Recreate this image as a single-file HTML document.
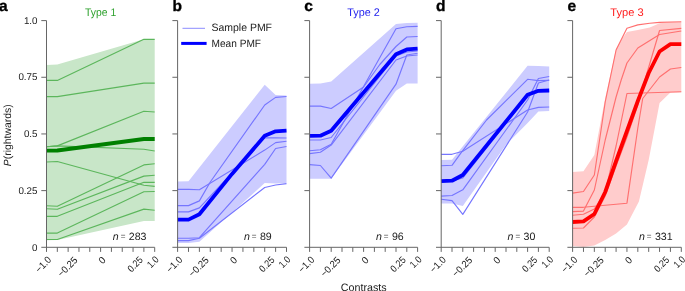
<!DOCTYPE html>
<html><head><meta charset="utf-8"><style>html,body{margin:0;padding:0;background:#fff;}body{width:685px;height:291px;overflow:hidden;}svg{display:block;}text{font-family:"Liberation Sans", sans-serif;}</style></head><body>
<svg width="685" height="291" viewBox="0 0 685 291" text-rendering="geometricPrecision" style="will-change:transform">
<polygon points="46.50,65.00 57.32,64.40 143.88,39.30 154.70,39.30 154.70,221.00 143.88,221.10 57.32,240.00 46.50,240.30" fill="#c8e6c8" stroke="none"/>
<polyline points="46.50,80.40 57.32,80.40 143.88,39.30 154.70,39.30" fill="none" stroke="#5cb65c" stroke-width="1.15" stroke-linejoin="round"/>
<polyline points="46.50,96.60 57.32,96.60 143.88,83.10 154.70,83.10" fill="none" stroke="#5cb65c" stroke-width="1.15" stroke-linejoin="round"/>
<polyline points="46.50,146.70 57.32,145.90 143.88,111.20 154.70,112.00" fill="none" stroke="#5cb65c" stroke-width="1.15" stroke-linejoin="round"/>
<polyline points="46.50,146.70 57.32,145.90 143.88,149.20 154.70,151.00" fill="none" stroke="#5cb65c" stroke-width="1.15" stroke-linejoin="round"/>
<polyline points="46.50,162.00 57.32,161.50 143.88,185.20 154.70,186.40" fill="none" stroke="#5cb65c" stroke-width="1.15" stroke-linejoin="round"/>
<polyline points="46.50,205.80 57.32,206.30 143.88,164.90 154.70,163.80" fill="none" stroke="#5cb65c" stroke-width="1.15" stroke-linejoin="round"/>
<polyline points="46.50,208.80 57.32,209.30 143.88,176.10 154.70,175.20" fill="none" stroke="#5cb65c" stroke-width="1.15" stroke-linejoin="round"/>
<polyline points="46.50,216.30 57.32,216.30 143.88,182.30 154.70,182.30" fill="none" stroke="#5cb65c" stroke-width="1.15" stroke-linejoin="round"/>
<polyline points="46.50,233.10 57.32,233.10 143.88,191.70 154.70,191.50" fill="none" stroke="#5cb65c" stroke-width="1.15" stroke-linejoin="round"/>
<polyline points="46.50,239.50 57.32,239.50 143.88,209.10 154.70,210.30" fill="none" stroke="#5cb65c" stroke-width="1.15" stroke-linejoin="round"/>
<polyline points="46.50,150.60 57.32,150.50 143.88,139.00 154.70,139.00" fill="none" stroke="#008000" stroke-width="3.8" stroke-linejoin="round"/>
<g stroke="#666" stroke-width="1" fill="none"><line x1="46.50" y1="20.60" x2="46.50" y2="251.90"/><line x1="41.30" y1="247.30" x2="154.70" y2="247.30"/><line x1="41.30" y1="190.62" x2="46.50" y2="190.62"/><line x1="41.30" y1="133.95" x2="46.50" y2="133.95"/><line x1="41.30" y1="77.28" x2="46.50" y2="77.28"/><line x1="41.30" y1="20.60" x2="46.50" y2="20.60"/><line x1="57.32" y1="247.30" x2="57.32" y2="251.90"/><line x1="68.14" y1="247.30" x2="68.14" y2="251.90"/><line x1="78.96" y1="247.30" x2="78.96" y2="251.90"/><line x1="89.78" y1="247.30" x2="89.78" y2="251.90"/><line x1="100.60" y1="247.30" x2="100.60" y2="251.90"/><line x1="111.42" y1="247.30" x2="111.42" y2="251.90"/><line x1="122.24" y1="247.30" x2="122.24" y2="251.90"/><line x1="133.06" y1="247.30" x2="133.06" y2="251.90"/><line x1="143.88" y1="247.30" x2="143.88" y2="251.90"/><line x1="154.70" y1="247.30" x2="154.70" y2="251.90"/></g>
<text x="37.50" y="250.50" font-size="9.8" fill="#1a1a1a" text-anchor="end">0</text><text x="37.50" y="193.82" font-size="9.8" fill="#1a1a1a" text-anchor="end">0.25</text><text x="37.50" y="137.15" font-size="9.8" fill="#1a1a1a" text-anchor="end">0.5</text><text x="37.50" y="80.48" font-size="9.8" fill="#1a1a1a" text-anchor="end">0.75</text><text x="37.50" y="23.80" font-size="9.8" fill="#1a1a1a" text-anchor="end">1.0</text>
<text transform="translate(45.50,266.90) rotate(-45)" font-size="9.8" fill="#1a1a1a" text-anchor="middle" textLength="17.99" lengthAdjust="spacingAndGlyphs">−1.0</text><text transform="translate(69.79,269.20) rotate(-45)" font-size="9.8" fill="#1a1a1a" text-anchor="middle" textLength="23.80" lengthAdjust="spacingAndGlyphs">−0.25</text><text transform="translate(104.50,262.50) rotate(-45)" font-size="9.8" fill="#1a1a1a" text-anchor="middle" textLength="5.45" lengthAdjust="spacingAndGlyphs">0</text><text transform="translate(137.46,266.70) rotate(-45)" font-size="9.8" fill="#1a1a1a" text-anchor="middle" textLength="17.16" lengthAdjust="spacingAndGlyphs">0.25</text><text transform="translate(155.15,264.30) rotate(-45)" font-size="9.8" fill="#1a1a1a" text-anchor="middle" textLength="11.85" lengthAdjust="spacingAndGlyphs">1.0</text>
<text x="-0.90" y="11.2" font-size="15.5" font-weight="bold" fill="#000" stroke="#000" stroke-width="0.35">a</text>
<text x="100.60" y="15.9" font-size="11" fill="#2ca02c" text-anchor="middle" textLength="31.2" lengthAdjust="spacingAndGlyphs">Type 1</text>
<text y="240" font-size="10.6" fill="#1a1a1a"><tspan x="112.80" font-style="italic">n</tspan><tspan x="118.50" dy="-1" font-size="8" font-weight="bold" fill="#8a8a8a"> = </tspan><tspan x="128.80" dy="1">283</tspan></text>
<polygon points="177.60,181.50 188.49,181.20 264.72,84.70 275.61,95.00 286.50,95.50 286.50,183.10 275.61,183.40 264.72,183.10 199.38,241.70 188.49,242.90 177.60,242.90" fill="#ccccff" stroke="none"/>
<polyline points="177.60,189.40 188.49,189.40 199.38,189.70 264.72,150.10 275.61,142.60 286.50,141.20" fill="none" stroke="#7676ff" stroke-width="1.15" stroke-linejoin="round"/>
<polyline points="177.60,205.60 188.49,205.60 199.38,200.90 210.27,182.00 264.72,105.00 275.61,97.40 286.50,96.50" fill="none" stroke="#7676ff" stroke-width="1.15" stroke-linejoin="round"/>
<polyline points="177.60,211.90 188.49,211.90 199.38,207.90 264.72,137.90 275.61,137.90 286.50,138.00" fill="none" stroke="#7676ff" stroke-width="1.15" stroke-linejoin="round"/>
<polyline points="177.60,238.20 188.49,238.20 199.38,237.70 264.72,164.30 275.61,148.50 286.50,146.50" fill="none" stroke="#7676ff" stroke-width="1.15" stroke-linejoin="round"/>
<polyline points="177.60,240.60 188.49,240.60 199.38,238.20 264.72,187.50 275.61,185.00 286.50,183.60" fill="none" stroke="#7676ff" stroke-width="1.15" stroke-linejoin="round"/>
<polyline points="177.60,219.60 188.49,219.60 199.38,214.20 232.05,173.90 264.72,135.80 275.61,131.30 286.50,130.70" fill="none" stroke="#0000ff" stroke-width="3.8" stroke-linejoin="round"/>
<g stroke="#666" stroke-width="1" fill="none"><line x1="177.60" y1="20.60" x2="177.60" y2="251.90"/><line x1="172.40" y1="247.30" x2="286.50" y2="247.30"/><line x1="172.40" y1="190.62" x2="177.60" y2="190.62"/><line x1="172.40" y1="133.95" x2="177.60" y2="133.95"/><line x1="172.40" y1="77.28" x2="177.60" y2="77.28"/><line x1="172.40" y1="20.60" x2="177.60" y2="20.60"/><line x1="188.49" y1="247.30" x2="188.49" y2="251.90"/><line x1="199.38" y1="247.30" x2="199.38" y2="251.90"/><line x1="210.27" y1="247.30" x2="210.27" y2="251.90"/><line x1="221.16" y1="247.30" x2="221.16" y2="251.90"/><line x1="232.05" y1="247.30" x2="232.05" y2="251.90"/><line x1="242.94" y1="247.30" x2="242.94" y2="251.90"/><line x1="253.83" y1="247.30" x2="253.83" y2="251.90"/><line x1="264.72" y1="247.30" x2="264.72" y2="251.90"/><line x1="275.61" y1="247.30" x2="275.61" y2="251.90"/><line x1="286.50" y1="247.30" x2="286.50" y2="251.90"/></g>

<text transform="translate(176.60,266.90) rotate(-45)" font-size="9.8" fill="#1a1a1a" text-anchor="middle" textLength="17.99" lengthAdjust="spacingAndGlyphs">−1.0</text><text transform="translate(201.03,269.20) rotate(-45)" font-size="9.8" fill="#1a1a1a" text-anchor="middle" textLength="23.80" lengthAdjust="spacingAndGlyphs">−0.25</text><text transform="translate(235.95,262.50) rotate(-45)" font-size="9.8" fill="#1a1a1a" text-anchor="middle" textLength="5.45" lengthAdjust="spacingAndGlyphs">0</text><text transform="translate(269.12,266.70) rotate(-45)" font-size="9.8" fill="#1a1a1a" text-anchor="middle" textLength="17.16" lengthAdjust="spacingAndGlyphs">0.25</text><text transform="translate(286.95,264.30) rotate(-45)" font-size="9.8" fill="#1a1a1a" text-anchor="middle" textLength="11.85" lengthAdjust="spacingAndGlyphs">1.0</text>
<text x="172.50" y="11.2" font-size="15.5" font-weight="bold" fill="#000" stroke="#000" stroke-width="0.35">b</text>
<text y="240" font-size="10.6" fill="#1a1a1a"><tspan x="243.90" font-style="italic">n</tspan><tspan x="249.60" dy="-1" font-size="8" font-weight="bold" fill="#8a8a8a"> = </tspan><tspan x="259.90" dy="1">89</tspan></text>
<polygon points="309.60,83.70 320.40,83.60 331.20,81.50 396.00,24.00 406.80,23.00 417.60,22.80 417.60,83.40 406.80,83.40 396.00,90.80 331.20,178.80 309.60,178.80" fill="#ccccff" stroke="none"/>
<polyline points="309.60,164.60 320.40,165.50 331.20,178.20 396.00,84.20 406.80,55.00 417.60,53.30" fill="none" stroke="#7676ff" stroke-width="1.15" stroke-linejoin="round"/>
<polyline points="309.60,153.60 320.40,152.30 331.20,145.10 396.00,60.00 406.80,56.00 417.60,55.00" fill="none" stroke="#7676ff" stroke-width="1.15" stroke-linejoin="round"/>
<polyline points="309.60,150.80 320.40,149.80 331.20,144.20 396.00,28.80 406.80,26.70 417.60,26.40" fill="none" stroke="#7676ff" stroke-width="1.15" stroke-linejoin="round"/>
<polyline points="309.60,106.10 320.40,106.10 331.20,108.50 363.60,87.00 379.80,64.50 396.00,46.50 406.80,37.00 417.60,36.50" fill="none" stroke="#7676ff" stroke-width="1.15" stroke-linejoin="round"/>
<polyline points="309.60,140.00 320.40,140.00 331.20,137.50 396.00,56.00 406.80,52.00 417.60,51.00" fill="none" stroke="#7676ff" stroke-width="1.15" stroke-linejoin="round"/>
<polyline points="309.60,135.90 320.40,135.70 331.20,130.80 396.00,54.20 406.80,49.40 417.60,48.70" fill="none" stroke="#0000ff" stroke-width="3.8" stroke-linejoin="round"/>
<g stroke="#666" stroke-width="1" fill="none"><line x1="309.60" y1="20.60" x2="309.60" y2="251.90"/><line x1="304.40" y1="247.30" x2="417.60" y2="247.30"/><line x1="304.40" y1="190.62" x2="309.60" y2="190.62"/><line x1="304.40" y1="133.95" x2="309.60" y2="133.95"/><line x1="304.40" y1="77.28" x2="309.60" y2="77.28"/><line x1="304.40" y1="20.60" x2="309.60" y2="20.60"/><line x1="320.40" y1="247.30" x2="320.40" y2="251.90"/><line x1="331.20" y1="247.30" x2="331.20" y2="251.90"/><line x1="342.00" y1="247.30" x2="342.00" y2="251.90"/><line x1="352.80" y1="247.30" x2="352.80" y2="251.90"/><line x1="363.60" y1="247.30" x2="363.60" y2="251.90"/><line x1="374.40" y1="247.30" x2="374.40" y2="251.90"/><line x1="385.20" y1="247.30" x2="385.20" y2="251.90"/><line x1="396.00" y1="247.30" x2="396.00" y2="251.90"/><line x1="406.80" y1="247.30" x2="406.80" y2="251.90"/><line x1="417.60" y1="247.30" x2="417.60" y2="251.90"/></g>

<text transform="translate(308.60,266.90) rotate(-45)" font-size="9.8" fill="#1a1a1a" text-anchor="middle" textLength="17.99" lengthAdjust="spacingAndGlyphs">−1.0</text><text transform="translate(332.85,269.20) rotate(-45)" font-size="9.8" fill="#1a1a1a" text-anchor="middle" textLength="23.80" lengthAdjust="spacingAndGlyphs">−0.25</text><text transform="translate(367.50,262.50) rotate(-45)" font-size="9.8" fill="#1a1a1a" text-anchor="middle" textLength="5.45" lengthAdjust="spacingAndGlyphs">0</text><text transform="translate(400.40,266.70) rotate(-45)" font-size="9.8" fill="#1a1a1a" text-anchor="middle" textLength="17.16" lengthAdjust="spacingAndGlyphs">0.25</text><text transform="translate(418.05,264.30) rotate(-45)" font-size="9.8" fill="#1a1a1a" text-anchor="middle" textLength="11.85" lengthAdjust="spacingAndGlyphs">1.0</text>
<text x="304.20" y="11.2" font-size="15.5" font-weight="bold" fill="#000" stroke="#000" stroke-width="0.35">c</text>
<text x="363.60" y="15.9" font-size="11" fill="#2323ee" text-anchor="middle" textLength="32.5" lengthAdjust="spacingAndGlyphs">Type 2</text>
<text y="240" font-size="10.6" fill="#1a1a1a"><tspan x="375.90" font-style="italic">n</tspan><tspan x="381.60" dy="-1" font-size="8" font-weight="bold" fill="#8a8a8a"> = </tspan><tspan x="391.90" dy="1">96</tspan></text>
<polygon points="441.20,160.00 452.00,159.80 527.60,65.80 538.40,66.00 549.20,66.60 549.20,111.00 538.40,111.50 527.60,123.00 506.00,144.80 462.80,206.10 452.00,203.50 441.20,203.50" fill="#ccccff" stroke="none"/>
<polyline points="441.20,154.30 452.00,154.30 462.80,151.20 527.60,110.00 538.40,107.40 549.20,107.00" fill="none" stroke="#7676ff" stroke-width="1.15" stroke-linejoin="round"/>
<polyline points="441.20,165.70 452.00,165.30 460.64,153.30 486.56,120.00 527.60,79.30 538.40,80.60 549.20,80.20" fill="none" stroke="#7676ff" stroke-width="1.15" stroke-linejoin="round"/>
<polyline points="441.20,196.10 452.00,195.50 462.80,189.80 527.60,100.00 538.40,78.50 549.20,76.50" fill="none" stroke="#7676ff" stroke-width="1.15" stroke-linejoin="round"/>
<polyline points="441.20,199.20 452.00,200.60 462.80,214.40 527.60,112.00 538.40,83.00 549.20,80.00" fill="none" stroke="#7676ff" stroke-width="1.15" stroke-linejoin="round"/>
<polyline points="441.20,181.00 452.00,181.00 462.80,178.00 527.60,96.00 538.40,92.00 549.20,91.00" fill="none" stroke="#7676ff" stroke-width="1.15" stroke-linejoin="round"/>
<polyline points="441.20,181.20 452.00,180.70 462.80,175.00 527.60,94.80 538.40,90.80 549.20,90.50" fill="none" stroke="#0000ff" stroke-width="3.8" stroke-linejoin="round"/>
<g stroke="#666" stroke-width="1" fill="none"><line x1="441.20" y1="20.60" x2="441.20" y2="251.90"/><line x1="436.00" y1="247.30" x2="549.20" y2="247.30"/><line x1="436.00" y1="190.62" x2="441.20" y2="190.62"/><line x1="436.00" y1="133.95" x2="441.20" y2="133.95"/><line x1="436.00" y1="77.28" x2="441.20" y2="77.28"/><line x1="436.00" y1="20.60" x2="441.20" y2="20.60"/><line x1="452.00" y1="247.30" x2="452.00" y2="251.90"/><line x1="462.80" y1="247.30" x2="462.80" y2="251.90"/><line x1="473.60" y1="247.30" x2="473.60" y2="251.90"/><line x1="484.40" y1="247.30" x2="484.40" y2="251.90"/><line x1="495.20" y1="247.30" x2="495.20" y2="251.90"/><line x1="506.00" y1="247.30" x2="506.00" y2="251.90"/><line x1="516.80" y1="247.30" x2="516.80" y2="251.90"/><line x1="527.60" y1="247.30" x2="527.60" y2="251.90"/><line x1="538.40" y1="247.30" x2="538.40" y2="251.90"/><line x1="549.20" y1="247.30" x2="549.20" y2="251.90"/></g>

<text transform="translate(440.20,266.90) rotate(-45)" font-size="9.8" fill="#1a1a1a" text-anchor="middle" textLength="17.99" lengthAdjust="spacingAndGlyphs">−1.0</text><text transform="translate(464.45,269.20) rotate(-45)" font-size="9.8" fill="#1a1a1a" text-anchor="middle" textLength="23.80" lengthAdjust="spacingAndGlyphs">−0.25</text><text transform="translate(499.10,262.50) rotate(-45)" font-size="9.8" fill="#1a1a1a" text-anchor="middle" textLength="5.45" lengthAdjust="spacingAndGlyphs">0</text><text transform="translate(532.00,266.70) rotate(-45)" font-size="9.8" fill="#1a1a1a" text-anchor="middle" textLength="17.16" lengthAdjust="spacingAndGlyphs">0.25</text><text transform="translate(549.65,264.30) rotate(-45)" font-size="9.8" fill="#1a1a1a" text-anchor="middle" textLength="11.85" lengthAdjust="spacingAndGlyphs">1.0</text>
<text x="436.10" y="11.2" font-size="15.5" font-weight="bold" fill="#000" stroke="#000" stroke-width="0.35">d</text>
<text y="240" font-size="10.6" fill="#1a1a1a"><tspan x="507.50" font-style="italic">n</tspan><tspan x="513.20" dy="-1" font-size="8" font-weight="bold" fill="#8a8a8a"> = </tspan><tspan x="523.50" dy="1">30</tspan></text>
<polygon points="572.60,172.10 583.47,171.30 594.34,155.00 605.21,98.00 616.08,49.00 622.06,38.60 626.95,32.00 637.82,30.00 649.78,27.50 659.56,23.20 670.43,22.30 681.30,21.90 681.30,92.20 670.43,92.60 659.56,102.90 648.69,160.00 638.91,201.50 626.95,224.60 616.08,233.50 605.21,240.00 594.34,245.50 583.47,246.90 572.60,246.00" fill="#ffcccc" stroke="none"/>
<polyline points="572.60,193.10 583.47,191.50 594.34,175.00 605.21,102.00 616.08,50.00 626.95,28.30 637.82,24.90 649.78,23.20 659.56,22.40 681.30,21.70" fill="none" stroke="#ff7070" stroke-width="1.15" stroke-linejoin="round"/>
<polyline points="572.60,207.30 583.47,207.30 626.95,203.20 637.82,128.00 642.71,98.50 659.56,77.00 670.43,69.00 681.30,67.50" fill="none" stroke="#ff7070" stroke-width="1.15" stroke-linejoin="round"/>
<polyline points="572.60,211.60 583.47,211.10 594.34,190.00 605.21,140.00 616.08,97.00 621.19,80.00 626.95,63.00 637.82,48.00 659.56,34.50 681.30,31.00" fill="none" stroke="#ff7070" stroke-width="1.15" stroke-linejoin="round"/>
<polyline points="572.60,215.20 583.47,214.20 594.34,209.00 605.21,192.00 616.08,146.00 620.43,125.00 626.95,93.50 681.30,91.80" fill="none" stroke="#ff7070" stroke-width="1.15" stroke-linejoin="round"/>
<polyline points="572.60,228.30 583.47,228.00 594.34,217.00 605.21,196.00 616.08,166.00 626.95,137.00 637.82,105.00 644.34,82.00 659.56,30.50 681.30,28.40" fill="none" stroke="#ff7070" stroke-width="1.15" stroke-linejoin="round"/>
<polyline points="572.60,222.00 583.47,221.40 594.34,214.00 605.21,192.00 616.08,161.00 626.95,131.00 637.82,101.00 648.69,73.00 659.56,51.50 670.43,44.10 681.30,44.10" fill="none" stroke="#ff0000" stroke-width="3.8" stroke-linejoin="round"/>
<g stroke="#666" stroke-width="1" fill="none"><line x1="572.60" y1="20.60" x2="572.60" y2="251.90"/><line x1="567.40" y1="247.30" x2="681.30" y2="247.30"/><line x1="567.40" y1="190.62" x2="572.60" y2="190.62"/><line x1="567.40" y1="133.95" x2="572.60" y2="133.95"/><line x1="567.40" y1="77.28" x2="572.60" y2="77.28"/><line x1="567.40" y1="20.60" x2="572.60" y2="20.60"/><line x1="583.47" y1="247.30" x2="583.47" y2="251.90"/><line x1="594.34" y1="247.30" x2="594.34" y2="251.90"/><line x1="605.21" y1="247.30" x2="605.21" y2="251.90"/><line x1="616.08" y1="247.30" x2="616.08" y2="251.90"/><line x1="626.95" y1="247.30" x2="626.95" y2="251.90"/><line x1="637.82" y1="247.30" x2="637.82" y2="251.90"/><line x1="648.69" y1="247.30" x2="648.69" y2="251.90"/><line x1="659.56" y1="247.30" x2="659.56" y2="251.90"/><line x1="670.43" y1="247.30" x2="670.43" y2="251.90"/><line x1="681.30" y1="247.30" x2="681.30" y2="251.90"/></g>

<text transform="translate(571.60,266.90) rotate(-45)" font-size="9.8" fill="#1a1a1a" text-anchor="middle" textLength="17.99" lengthAdjust="spacingAndGlyphs">−1.0</text><text transform="translate(595.99,269.20) rotate(-45)" font-size="9.8" fill="#1a1a1a" text-anchor="middle" textLength="23.80" lengthAdjust="spacingAndGlyphs">−0.25</text><text transform="translate(630.85,262.50) rotate(-45)" font-size="9.8" fill="#1a1a1a" text-anchor="middle" textLength="5.45" lengthAdjust="spacingAndGlyphs">0</text><text transform="translate(663.96,266.70) rotate(-45)" font-size="9.8" fill="#1a1a1a" text-anchor="middle" textLength="17.16" lengthAdjust="spacingAndGlyphs">0.25</text><text transform="translate(681.75,264.30) rotate(-45)" font-size="9.8" fill="#1a1a1a" text-anchor="middle" textLength="11.85" lengthAdjust="spacingAndGlyphs">1.0</text>
<text x="567.40" y="11.2" font-size="15.5" font-weight="bold" fill="#000" stroke="#000" stroke-width="0.35">e</text>
<text x="626.95" y="15.9" font-size="11" fill="#ff1a1a" text-anchor="middle" textLength="33.3" lengthAdjust="spacingAndGlyphs">Type 3</text>
<text y="240" font-size="10.6" fill="#1a1a1a"><tspan x="638.90" font-style="italic">n</tspan><tspan x="644.60" dy="-1" font-size="8" font-weight="bold" fill="#8a8a8a"> = </tspan><tspan x="654.90" dy="1">331</tspan></text>
<line x1="182.5" y1="28.3" x2="205" y2="28.3" stroke="#8c8cff" stroke-width="1"/><line x1="181.2" y1="43.4" x2="206.6" y2="43.4" stroke="#0000ff" stroke-width="3"/><text x="211.5" y="30.9" font-size="10.6" fill="#1a1a1a" textLength="60.5" lengthAdjust="spacingAndGlyphs">Sample PMF</text><text x="211.5" y="46.6" font-size="10.6" fill="#1a1a1a" textLength="49.5" lengthAdjust="spacingAndGlyphs">Mean PMF</text>
<text transform="translate(10.6,135.3) rotate(-90)" font-size="10.4" fill="#1a1a1a" text-anchor="middle"><tspan font-style="italic">P</tspan>(rightwards)</text>
<text x="363.7" y="290.8" font-size="10.7" fill="#1a1a1a" text-anchor="middle">Contrasts</text>
</svg>
</body></html>
